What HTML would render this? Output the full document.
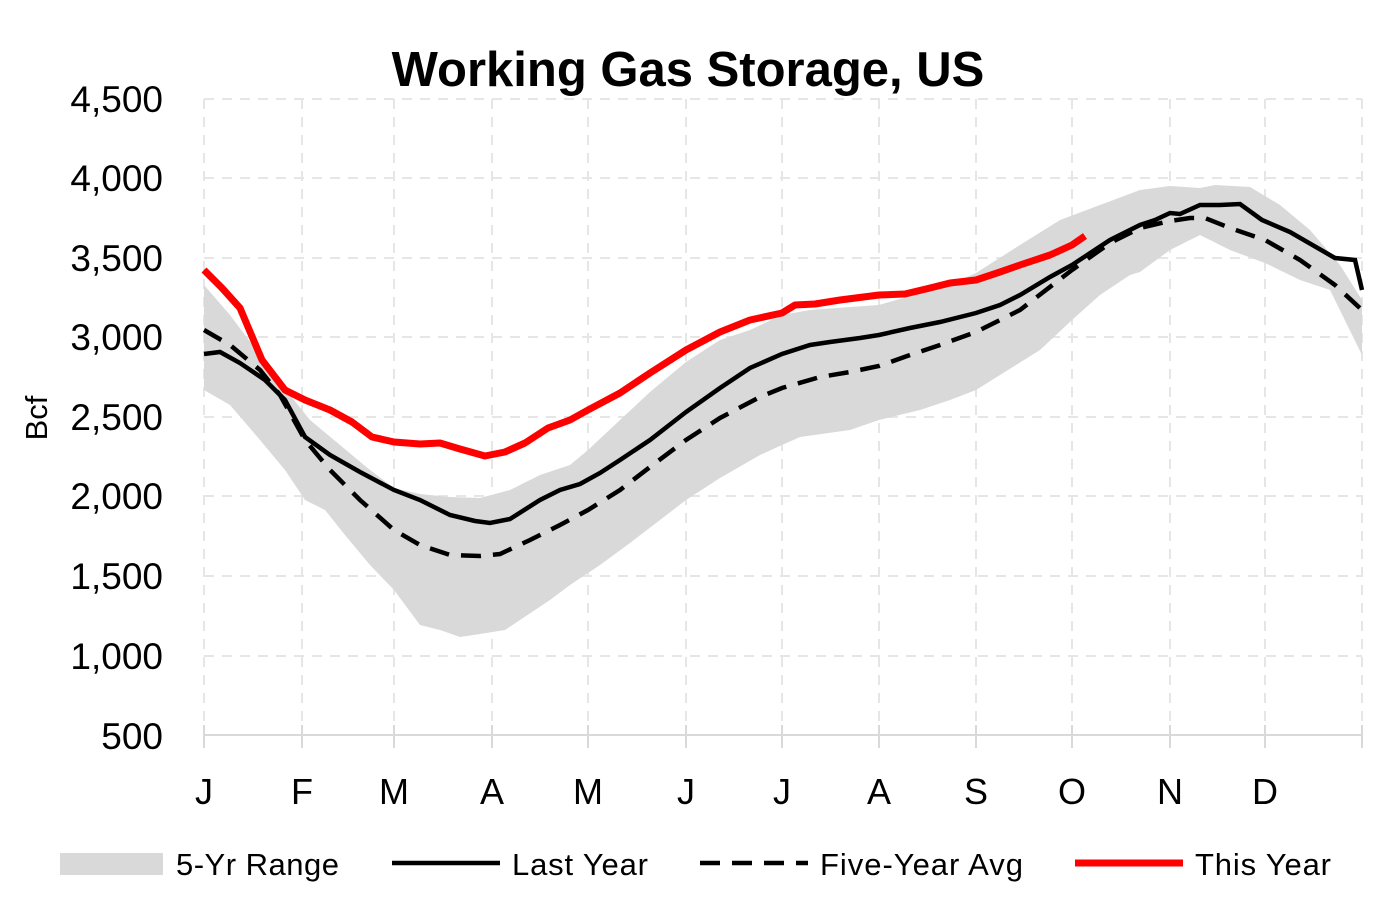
<!DOCTYPE html>
<html><head><meta charset="utf-8"><style>
body{margin:0;background:#fff;}
svg text{font-family:"Liberation Sans",sans-serif;}
</style></head><body>
<svg width="1376" height="901" viewBox="0 0 1376 901" xmlns="http://www.w3.org/2000/svg">
<rect width="1376" height="901" fill="#fff"/>
<g stroke="#e6e6e6" stroke-width="2" stroke-dasharray="10,8">
<line x1="204" y1="99" x2="1362" y2="99"/><line x1="204" y1="178" x2="1362" y2="178"/>
<line x1="204" y1="258" x2="1362" y2="258"/><line x1="204" y1="337" x2="1362" y2="337"/>
<line x1="204" y1="417" x2="1362" y2="417"/><line x1="204" y1="496" x2="1362" y2="496"/>
<line x1="204" y1="576" x2="1362" y2="576"/><line x1="204" y1="656" x2="1362" y2="656"/>
<line x1="204" y1="99" x2="204" y2="736"/><line x1="302" y1="99" x2="302" y2="736"/>
<line x1="394" y1="99" x2="394" y2="736"/><line x1="492" y1="99" x2="492" y2="736"/>
<line x1="588" y1="99" x2="588" y2="736"/><line x1="686" y1="99" x2="686" y2="736"/>
<line x1="782" y1="99" x2="782" y2="736"/><line x1="879" y1="99" x2="879" y2="736"/>
<line x1="976" y1="99" x2="976" y2="736"/><line x1="1072" y1="99" x2="1072" y2="736"/>
<line x1="1170" y1="99" x2="1170" y2="736"/><line x1="1265" y1="99" x2="1265" y2="736"/>
<line x1="1362" y1="99" x2="1362" y2="736"/>
</g>
<g stroke="#d9d9d9" stroke-width="2">
<line x1="204" y1="735" x2="1362" y2="735"/>
<line x1="204" y1="725" x2="204" y2="748"/><line x1="302" y1="725" x2="302" y2="748"/><line x1="394" y1="725" x2="394" y2="748"/><line x1="492" y1="725" x2="492" y2="748"/><line x1="588" y1="725" x2="588" y2="748"/><line x1="686" y1="725" x2="686" y2="748"/><line x1="782" y1="725" x2="782" y2="748"/><line x1="879" y1="725" x2="879" y2="748"/><line x1="976" y1="725" x2="976" y2="748"/><line x1="1072" y1="725" x2="1072" y2="748"/><line x1="1170" y1="725" x2="1170" y2="748"/><line x1="1265" y1="725" x2="1265" y2="748"/><line x1="1362" y1="725" x2="1362" y2="748"/>
</g>
<polygon fill="#d9d9d9" points="204,285 230,315 260,355 290,395 310,420 340,445 370,470 394,488 420,494 450,497 480,498 510,490 540,475 570,465 588,450 620,420 650,392 686,362 720,340 750,330 782,315 810,310 850,307 879,305 920,293 960,280 976,273 1020,245 1060,220 1100,205 1140,190 1170,186 1200,188 1215,185 1250,187 1280,205 1310,230 1340,265 1362,300 1362,355 1330,290 1300,280 1265,263 1230,250 1200,235 1170,250 1140,272 1130,275 1100,295 1072,320 1040,350 1000,375 976,390 950,400 920,410 879,420 850,430 800,437 782,445 760,455 720,478 686,500 660,520 630,543 600,565 570,585 550,600 520,620 505,630 480,634 460,637 440,630 420,625 394,590 370,565 345,535 325,510 305,500 285,470 260,440 230,405 204,390"/>
<polyline fill="none" stroke="#000" stroke-width="4.5" stroke-dasharray="20,12" points="204,330 230,345 260,370 280,395 305,440 330,470 360,500 394,530 420,545 450,555 480,556 500,554 530,540 560,525 588,510 620,490 650,467 686,440 720,418 760,397 782,388 820,377 850,372 879,366 910,355 940,345 976,332 1020,310 1072,270 1110,243 1140,228 1170,221 1190,218 1205,218 1230,228 1265,240 1300,260 1335,285 1362,310"/>
<polyline fill="none" stroke="#000" stroke-width="4.5" points="204,354 220,352 240,363 265,380 285,400 305,437 330,455 360,472 394,490 420,500 450,515 475,521 490,523 510,519 540,500 560,490 580,484 600,473 620,460 650,440 686,412 720,388 750,368 782,354 810,345 830,342 860,338 879,335 910,328 940,322 976,313 1000,305 1020,295 1050,277 1072,265 1110,240 1140,225 1155,220 1170,213 1180,214 1200,205 1220,205 1240,204 1262,220 1290,232 1335,258 1355,260 1362,290"/>
<polyline fill="none" stroke="#ff0000" stroke-width="7" stroke-linejoin="round" points="204,270 222,288 240,308 262,360 285,390 305,400 330,410 352,422 372,437 394,442 420,444 440,443 460,449 485,456 505,452 525,443 548,428 570,420 588,410 620,393 650,373 686,350 720,332 750,320 782,313 795,305 815,304 840,300 879,295 905,294 930,288 950,283 976,280 1000,272 1020,265 1050,255 1072,245 1085,236"/>
<text x="688" y="86" text-anchor="middle" font-size="49" font-weight="bold">Working Gas Storage, US</text>
<g font-size="37" text-anchor="end">
<text x="163" y="112">4,500</text><text x="163" y="191">4,000</text><text x="163" y="271">3,500</text><text x="163" y="350">3,000</text><text x="163" y="430">2,500</text><text x="163" y="509">2,000</text><text x="163" y="589">1,500</text><text x="163" y="669">1,000</text><text x="163" y="749">500</text>
</g>
<text transform="translate(47,418) rotate(-90)" text-anchor="middle" font-size="31">Bcf</text>
<g font-size="36" text-anchor="middle">
<text x="204" y="804">J</text><text x="302" y="804">F</text><text x="394" y="804">M</text><text x="492" y="804">A</text><text x="588" y="804">M</text><text x="686" y="804">J</text><text x="782" y="804">J</text><text x="879" y="804">A</text><text x="976" y="804">S</text><text x="1072" y="804">O</text><text x="1170" y="804">N</text><text x="1265" y="804">D</text>
</g>
<rect x="60" y="853" width="103" height="22" fill="#d9d9d9"/>
<line x1="392" y1="863" x2="500" y2="863" stroke="#000" stroke-width="4.5"/>
<line x1="700" y1="863" x2="808" y2="863" stroke="#000" stroke-width="4.5" stroke-dasharray="20,12"/>
<line x1="1075" y1="863" x2="1183" y2="863" stroke="#ff0000" stroke-width="7"/>
<g font-size="31">
<text x="176" y="875" textLength="163">5-Yr Range</text><text x="512" y="875" textLength="136">Last Year</text><text x="820" y="875" textLength="203">Five-Year Avg</text><text x="1195" y="875" textLength="136">This Year</text>
</g>
</svg>
</body></html>
